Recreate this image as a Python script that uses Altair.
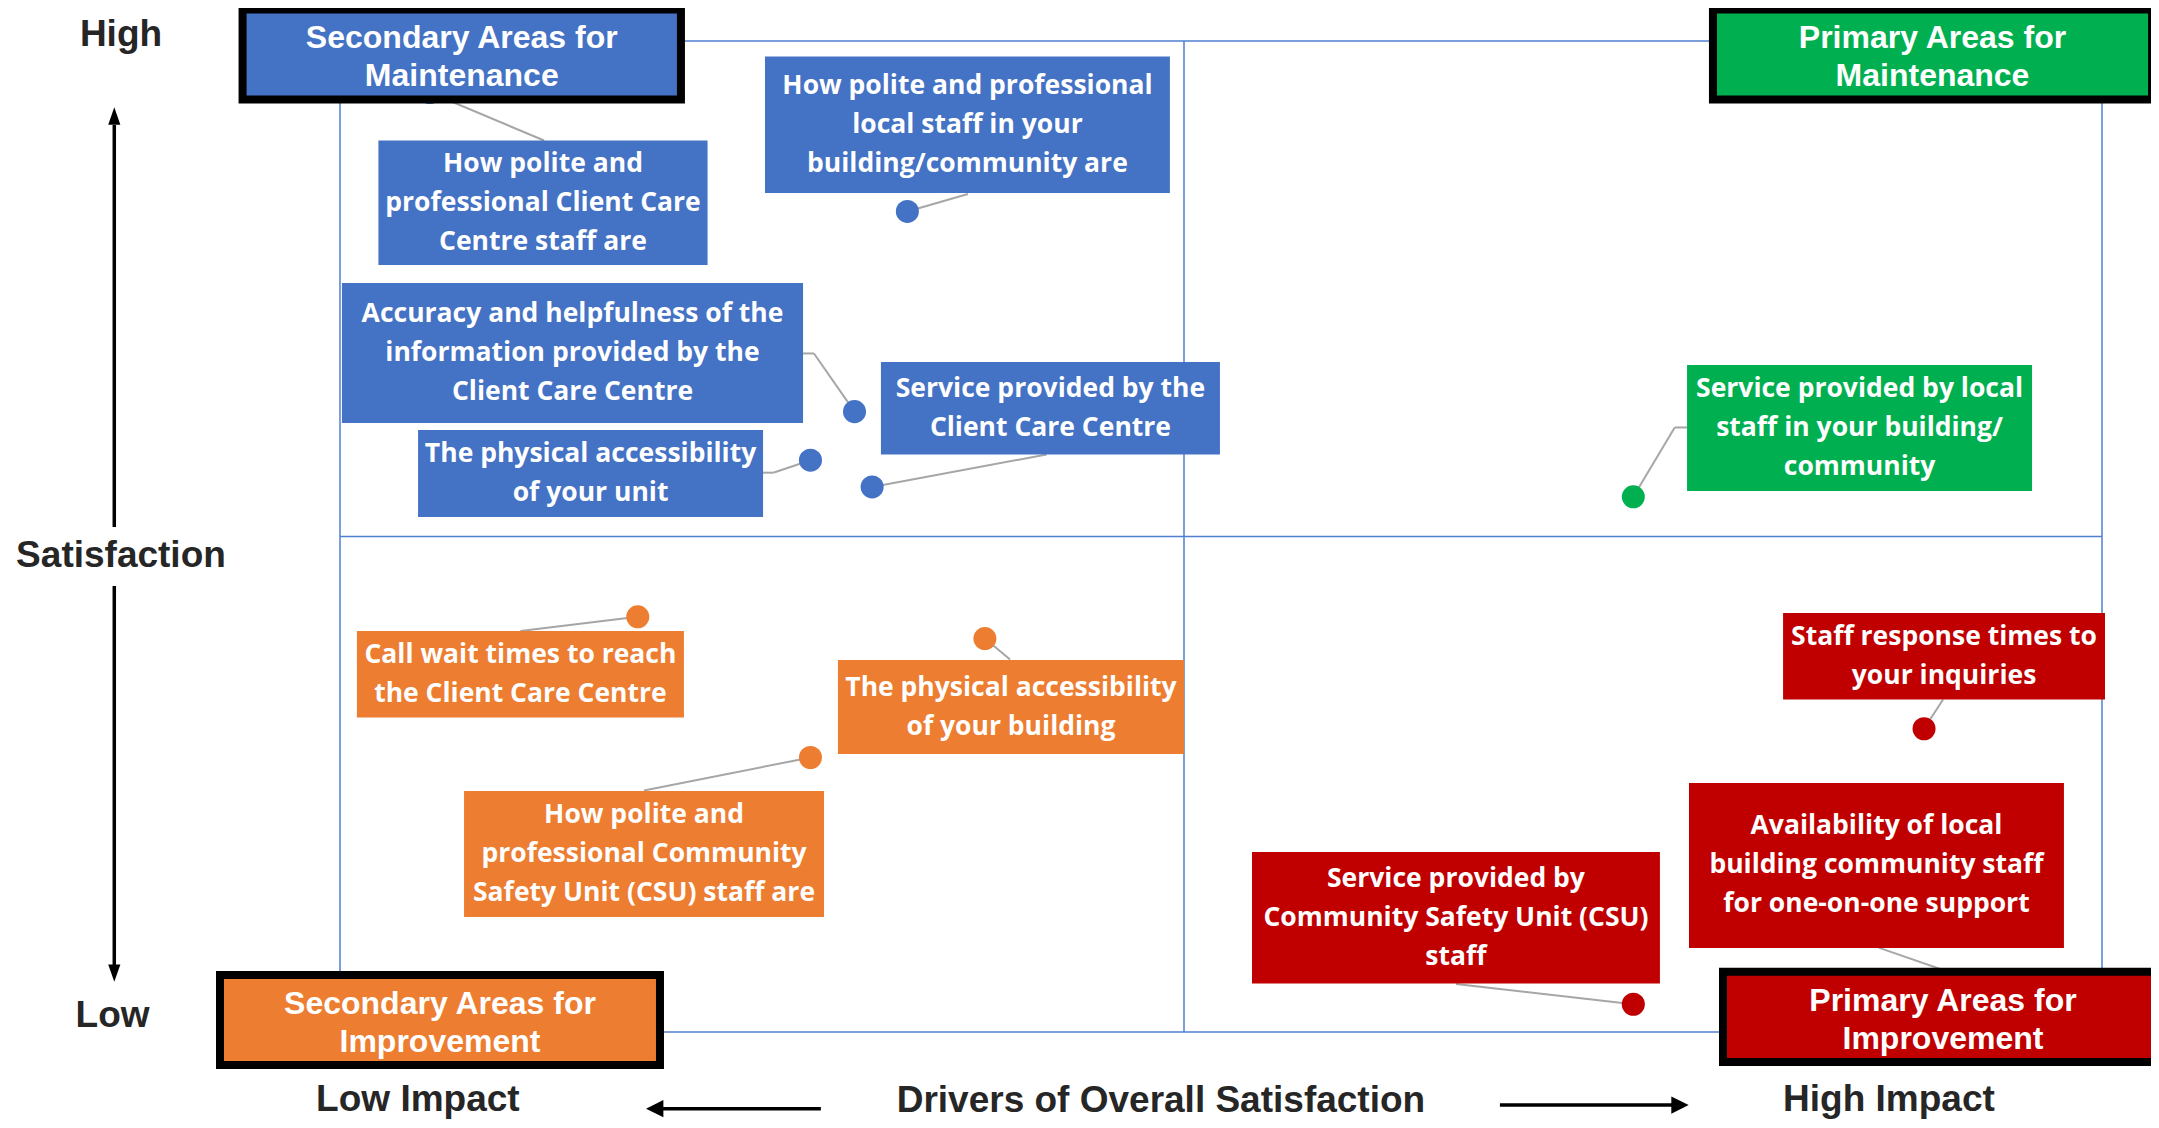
import altair as alt
import pandas as pd

# ---------------- data ----------------
groups = ["Secondary Areas for Maintenance", "Primary Areas for Maintenance",
          "Secondary Areas for Improvement", "Primary Areas for Improvement"]
group_colors = ["#4472C4", "#00B050", "#ED7D31", "#C00000"]

items = [
    "How polite and professional\nlocal staff in your\nbuilding/community are",
    "Accuracy and helpfulness of the\ninformation provided by the\nClient Care Centre",
    "The physical accessibility\nof your unit",
    "Service provided by the\nClient Care Centre",
    "How polite and\nprofessional Client Care\nCentre staff are",
    "Service provided by local\nstaff in your building/\ncommunity",
    "Call wait times to reach\nthe Client Care Centre",
    "The physical accessibility\nof your building",
    "How polite and\nprofessional Community\nSafety Unit (CSU) staff are",
    "Staff response times to\nyour inquiries",
    "Service provided by\nCommunity Safety Unit (CSU)\nstaff",
    "Availability of local\nbuilding community staff\nfor one-on-one support",
]
item_group = [groups[0]] * 5 + [groups[1]] + [groups[2]] * 3 + [groups[3]] * 3
impact = [32.2, 29.2, 26.7, 30.2, 5.1, 73.4, 16.9, 36.6, 26.7, 89.9, 73.4, 93.2]
satisfaction = [82.8, 62.6, 57.7, 55.0, 94.8, 54.0, 41.9, 39.7, 27.7, 30.6, 2.8, 4.9]

# quadrant split (impact, satisfaction)
split_impact = 47.9
split_satisfaction = 50.0

# ---------------- label layout (data units) ----------------
box_x0 = [24.12, 0.11, 4.43, 30.70, 2.18, 76.45, 0.96, 28.26, 7.04, 81.90, 51.76, 76.56]
box_x1 = [47.10, 26.28, 24.01, 49.94, 20.86, 96.03, 19.52, 47.90, 27.47, 100.17, 74.91, 97.84]
box_y0 = [84.66, 61.45, 51.97, 58.27, 77.40, 54.59, 31.73, 28.05, 11.60, 33.55, 4.89, 8.48]
box_y1 = [98.44, 75.58, 60.75, 67.61, 89.96, 67.31, 40.46, 37.54, 24.32, 42.28, 18.16, 25.13]

anchor_x = [35.64, 26.28, 23.99, 40.10, 11.58, 76.45, 10.24, 38.03, 17.25, 90.98, 63.34, 87.32]
anchor_y = [84.56, 68.47, 56.44, 58.27, 89.96, 61.00, 40.46, 37.58, 24.38, 33.55, 4.84, 8.51]
elbow_x = [None, 26.90, 24.59, None, None, 75.75, None, None, None, None, None, None]
elbow_y = [None, 68.47, 56.44, None, None, 61.00, None, None, None, None, None, None]

corner_text = ["Secondary Areas for\nMaintenance", "Primary Areas for\nMaintenance",
               "Secondary Areas for\nImprovement", "Primary Areas for\nImprovement"]
corner_x0 = [-5.53, 77.92, -6.81, 78.49]
corner_x1 = [19.35, 102.84, 18.16, 103.46]
corner_y0 = [94.10, 94.10, -3.33, -3.03]
corner_y1 = [103.18, 103.18, 5.75, 6.09]

axis_text = ["High", "Satisfaction", "Low", "Low Impact",
             "Drivers of Overall Satisfaction", "High Impact"]
axis_x = [-12.43, -12.43, -12.91, 4.42, 46.59, 87.91]
axis_y = [99.50, 46.92, 0.50, -8.02, -8.08, -7.95]

shaft_x = [-12.81, -12.81, 27.29, 65.83]
shaft_x2 = [-12.81, -12.81, 18.16, 75.77]
shaft_y = [50.96, 45.01, -7.74, -7.37]
shaft_y2 = [91.52, 6.76, -7.74, -7.37]
head_x = [-12.81, -12.81, 17.86, 76.05]
head_y = [92.43, 5.95, -7.74, -7.37]
head_shape = ["M0,-1L0.7,1L-0.7,1Z", "M0,1L0.7,-1L-0.7,-1Z",
              "M-1,0L1,-1L1,1Z", "M1,0L-1,-1L-1,1Z"]

# ---------------- geometry ----------------
PLOT_W, PLOT_H = 1762, 991
LABEL_LH, CORNER_LH = 39, 38
CORNER_SHIFT_PX = 3
px_per_y = PLOT_H / 100.0

xs = alt.Scale(domain=[0, 100], nice=False, zero=False)
ys = alt.Scale(domain=[0, 100], nice=False, zero=False)
cs = alt.Scale(domain=groups, range=group_colors)


def X(f):
    return alt.X(f, type="quantitative", scale=xs, axis=None)


def Y(f):
    return alt.Y(f, type="quantitative", scale=ys, axis=None)


points = pd.DataFrame({"item": items, "group": item_group,
                       "impact": impact, "satisfaction": satisfaction})

boxes = pd.DataFrame({"item": items, "group": item_group,
                      "x0": box_x0, "x1": box_x1, "y0": box_y0, "y1": box_y1})
boxes["cx"] = (boxes.x0 + boxes.x1) / 2
boxes["ty"] = [(a + b) / 2 + (t.count("\n")) * LABEL_LH / 2 / px_per_y
               for a, b, t in zip(box_y0, box_y1, items)]

seg_rows = []
for i in range(len(items)):
    path = [(anchor_x[i], anchor_y[i])]
    if elbow_x[i] is not None:
        path.append((elbow_x[i], elbow_y[i]))
    path.append((impact[i], satisfaction[i]))
    for a, b in zip(path[:-1], path[1:]):
        seg_rows.append({"x": a[0], "y": a[1], "x2": b[0], "y2": b[1]})
segs = pd.DataFrame(seg_rows)

corners = pd.DataFrame({"text": corner_text, "group": groups,
                        "x0": corner_x0, "x1": corner_x1,
                        "y0": corner_y0, "y1": corner_y1})
corners["cx"] = (corners.x0 + corners.x1) / 2
corners["ty"] = [(a + b) / 2 + ((t.count("\n")) * CORNER_LH / 2 - CORNER_SHIFT_PX) / px_per_y
                 for a, b, t in zip(corner_y0, corner_y1, corner_text)]

axis_df = pd.DataFrame({"text": axis_text, "x": axis_x, "y": axis_y})
shafts = pd.DataFrame({"x": shaft_x, "x2": shaft_x2, "y": shaft_y, "y2": shaft_y2})
heads = pd.DataFrame({"x": head_x, "y": head_y, "shape": head_shape})
quads = pd.DataFrame({
    "x": [0, 100, 0, 0, split_impact, 0],
    "x2": [0, 100, 100, 100, split_impact, 100],
    "y": [0, 0, 0, 100, 0, split_satisfaction],
    "y2": [100, 100, 0, 100, 100, split_satisfaction],
})

# ---------------- layers ----------------
frame = alt.Chart(quads).mark_rule(color="#4F7FD0", strokeWidth=1.5).encode(
    x=X("x"), x2="x2", y=Y("y"), y2="y2")

leaders = alt.Chart(segs).mark_rule(color="#A6A6A6", strokeWidth=2).encode(
    x=X("x"), x2="x2", y=Y("y"), y2="y2")

dots = alt.Chart(points).mark_circle(size=530, opacity=1).encode(
    x=X("impact"), y=Y("satisfaction"),
    color=alt.Color("group:N", scale=cs, legend=None))

label_rects = alt.Chart(boxes).mark_rect().encode(
    x=X("x0"), x2="x1", y=Y("y0"), y2="y1",
    fill=alt.Fill("group:N", scale=cs, legend=None))

label_text = alt.Chart(boxes).mark_text(
    font="Open Sans", fontWeight="bold", fontSize=26.5, color="white",
    lineBreak="\n", lineHeight=LABEL_LH, align="center", baseline="middle").encode(
    x=X("cx"), y=Y("ty"), text="item:N")

corner_rects = alt.Chart(corners).mark_rect(stroke="black", strokeWidth=8).encode(
    x=X("x0"), x2="x1", y=Y("y0"), y2="y1",
    fill=alt.Fill("group:N", scale=cs, legend=None))

corner_lbl = alt.Chart(corners).mark_text(
    font="Liberation Sans", fontWeight="bold", fontSize=32, color="white",
    lineBreak="\n", lineHeight=CORNER_LH, align="center", baseline="middle").encode(
    x=X("cx"), y=Y("ty"), text="text:N")

axis_lbl = alt.Chart(axis_df).mark_text(
    font="Liberation Sans", fontWeight="bold", fontSize=37, color="#262626",
    align="center", baseline="alphabetic").encode(
    x=X("x"), y=Y("y"), text="text:N")

arrow_shafts = alt.Chart(shafts).mark_rule(color="black", strokeWidth=3.5).encode(
    x=X("x"), x2="x2", y=Y("y"), y2="y2")

arrow_heads = alt.Chart(heads).mark_point(filled=True, color="black", opacity=1,
                                          size=300, strokeWidth=0).encode(
    x=X("x"), y=Y("y"), shape=alt.Shape("shape:N", scale=None))

chart = alt.layer(
    frame, leaders, dots, label_rects, label_text,
    corner_rects, corner_lbl, axis_lbl, arrow_shafts, arrow_heads
).properties(
    width=PLOT_W, height=PLOT_H,
    padding={"left": 332, "top": 33, "right": 49, "bottom": 88},
    autosize=alt.AutoSizeParams(type="none"),
    background="white",
).configure_view(stroke=None)

chart.save("out.html", embed_options={"renderer": "svg", "actions": False})
